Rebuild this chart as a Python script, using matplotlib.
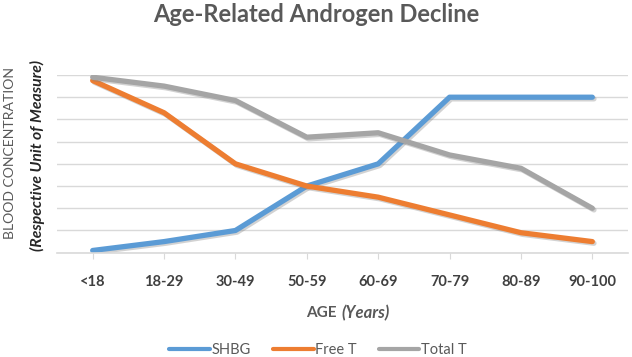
import matplotlib
matplotlib.use("Agg")
import matplotlib.pyplot as plt
import matplotlib.patheffects as pe

# data
ages = ["<18", "18-29", "30-49", "50-59", "60-69", "70-79", "80-89", "90-100"]
shbg = [0.1, 0.5, 1.0, 3.0, 4.0, 7.0, 7.0, 7.0]
free_t = [7.75, 6.3, 4.0, 3.0, 2.5, 1.7, 0.9, 0.5]
total_t = [7.9, 7.5, 6.85, 5.2, 5.4, 4.4, 3.8, 2.0]

colors = {"SHBG": "#5B9BD5", "Free T": "#ED7D31", "Total T": "#A5A5A5"}
grey_txt = "#595959"
grid_col = "#D9D9D9"

plt.rcParams["font.family"] = ["Lato", "DejaVu Sans"]

fig = plt.figure(figsize=(6.32, 3.57), dpi=100)
ax = fig.add_axes([57 / 632, 1 - 252.7 / 357, 571 / 632, 177.7 / 357])

shadow = [pe.SimpleLineShadow(offset=(1.2, -1.2), shadow_color="#808080", alpha=0.35),
          pe.Normal()]

x = list(range(len(ages)))
for name, vals in [("SHBG", shbg), ("Free T", free_t), ("Total T", total_t)]:
    ax.plot(x, vals, color=colors[name], lw=3.8, label=name,
            solid_capstyle="round", solid_joinstyle="round", path_effects=shadow)

ax.set_xlim(-0.5, len(ages) - 0.5)
ax.set_ylim(0, 8)
ax.set_yticks(range(0, 9))
ax.yaxis.grid(True, color=grid_col, lw=1)
ax.set_axisbelow(True)
ax.tick_params(axis="y", left=False, labelleft=False)
for s in ["top", "right", "left"]:
    ax.spines[s].set_visible(False)
ax.spines["bottom"].set_color(grid_col)
ax.spines["bottom"].set_linewidth(1.2)

ax.set_xticks(x)
ax.set_xticklabels(ages, fontsize=10.5, fontweight="bold", color="#404040")
ax.tick_params(axis="x", length=4, color=grid_col, pad=12)

fig.text(0.5, 1 - 14 / 357, "Age-Related Androgen Decline", ha="center", va="center",
         fontsize=17, fontweight="bold", color=grey_txt)

fig.text(10 / 632, 1 - 153 / 357, "BLOOD CONCENTRATION", rotation=90, ha="center",
         va="center", fontsize=10.1, color=grey_txt)
fig.text(37 / 632, 1 - 155 / 357, "(Respective Unit of Measure)", rotation=90, ha="center",
         va="center", fontsize=11.3, fontweight="bold", fontstyle="italic", color="#262626")

# x axis title: "AGE" upright, "(Years)" italic
fig.text(337 / 632, 1 - 313 / 357, "AGE", ha="right", va="center",
         fontsize=11, fontweight="bold", color=grey_txt)
fig.text(341 / 632, 1 - 313 / 357, "(Years)", ha="left", va="center",
         fontsize=12, fontweight="bold", fontstyle="italic", color=grey_txt)

leg = fig.legend(loc="center", bbox_to_anchor=(318 / 632, 1 - 350 / 357), ncol=3,
                 frameon=False, fontsize=10.5, handlelength=2.8, handletextpad=0.1,
                 columnspacing=1.5)
for t in leg.get_texts():
    t.set_color(grey_txt)
for h in leg.legend_handles:
    h.set_linewidth(3)
    h.set_path_effects([])

fig.savefig("out.png", dpi=100)
